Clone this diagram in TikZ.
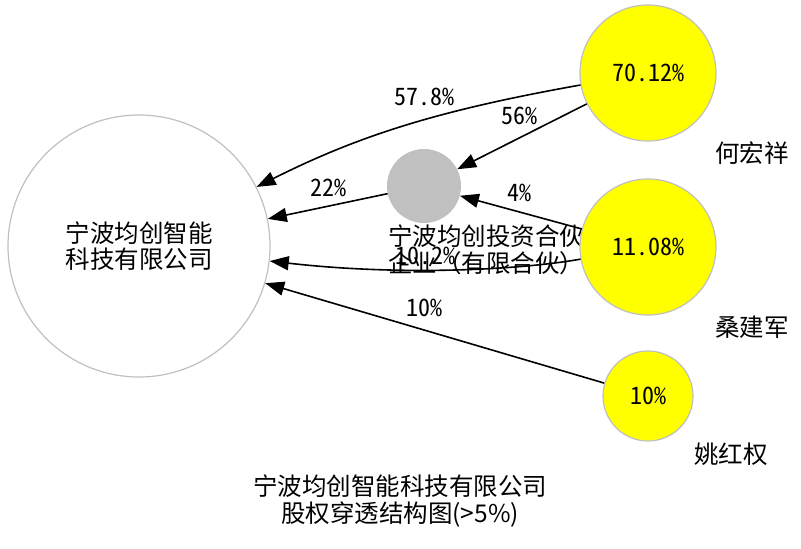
\documentclass[tikz,border=0pt]{standalone}
\usepackage{fontspec}
\setmainfont{Noto Sans CJK SC}
\newfontfamily\halfw[RawFeature=+hwid]{Noto Sans CJK SC}
\usetikzlibrary{arrows.meta}
\definecolor{ringgray}{RGB}{192,192,192}
\definecolor{nodeyellow}{RGB}{255,255,0}
\tikzset{
  every node/.style={font=\fontsize{24.5}{26}\selectfont, inner sep=0pt},
  company/.style={circle, draw=ringgray, line width=1.2pt, fill=white, minimum size=262pt, align=center},
  fund/.style={circle, fill=ringgray, minimum size=74pt},
  person/.style={circle, draw=ringgray, line width=1.2pt, fill=nodeyellow, font=\halfw\fontsize{24}{26}\selectfont},
  link/.style={draw=black, line width=1.6pt, -{Triangle[length=19pt,width=14pt]}},
  pct/.style={font=\halfw\fontsize{24}{26}\selectfont},
  caption/.style={align=center, font=\fontsize{24.5}{26.5}\selectfont}
}
\begin{document}
\begin{tikzpicture}[x=1pt,y=-1pt]
\useasboundingbox (0,0) rectangle (801,549);
\node[company] (co) at (139,246) {宁波均创智能\\科技有限公司};
\node[fund] (inv) at (424,186) {};
\node[caption] (invlab) at (486,250) {宁波均创投资合伙\\企业（有限合伙）};
\node[person, minimum size=136pt] (hx) at (648,73) {70.12\%};
\node[person, minimum size=136pt] (sj) at (648,247) {11.08\%};
\node[person, minimum size=90pt] (yh) at (648,396) {10\%};
\node (hxlab) at (752,153) {何宏祥};
\node (sjlab) at (752,327) {桑建军};
\node (yhlab) at (731,454) {姚红权};
\node[caption] (title) at (400,501) {宁波均创智能科技有限公司\\股权穿透结构图(>5\%)};

\draw[link] (hx) .. controls (440,110) and (360,135) .. (co);
\draw[link] (hx) -- (inv);
\draw[link] (inv) -- (co);
\draw[link] (sj) -- (inv);
\draw[link] (sj) .. controls (520,270) and (400,276) .. (co);
\draw[link] (yh) -- (co);

\node[pct] (l1) at (424,97) {57.8\%};
\node[pct] (l2) at (519,116) {56\%};
\node[pct] (l3) at (328,188) {22\%};
\node[pct] (l4) at (519,193) {4\%};
\node[pct] (l5) at (425,256) {10.2\%};
\node[pct] (l6) at (424,308) {10\%};
\end{tikzpicture}
\end{document}
